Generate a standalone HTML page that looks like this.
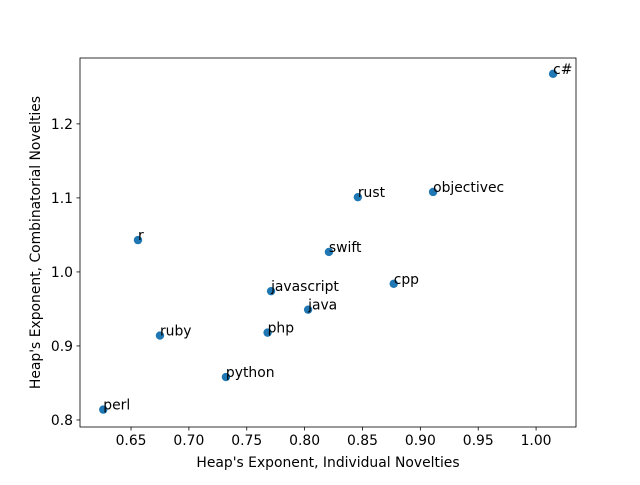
<!DOCTYPE html>
<html><head><meta charset="utf-8"><style>
body{margin:0;background:#fff}
svg text{font-family:"DejaVu Sans","Liberation Sans",sans-serif;}
</style></head><body>
<svg id="chart" width="640" height="480" xmlns="http://www.w3.org/2000/svg">
<rect width="640" height="480" fill="#fff"/>
<g id="plot"></g>
</svg>
<script>
const labels=["c#","objectivec","rust","swift","cpp","r","javascript","java","php","ruby","python","perl"];
const xVals=[1.0147,0.911,0.846,0.821,0.877,0.656,0.771,0.803,0.768,0.675,0.732,0.626];
const yVals=[1.2676,1.108,1.101,1.027,0.984,1.043,0.974,0.949,0.918,0.914,0.858,0.814];
const xTicks=[0.65,0.70,0.75,0.80,0.85,0.90,0.95,1.00];
const yTicks=[0.8,0.9,1.0,1.1,1.2];
const L=80,R=576,T=58,B=427;
const xMin=0.6059,xMax=1.0345,yMin=0.7905,yMax=1.289;
const sx=v=>L+(v-xMin)/(xMax-xMin)*(R-L);
const sy=v=>B-(v-yMin)/(yMax-yMin)*(B-T);
const NS="http://www.w3.org/2000/svg";
const FS=13.9;
const g=document.getElementById('plot');
function mk(t,a,txt){const e=document.createElementNS(NS,t);for(const k in a)e.setAttribute(k,a[k]);if(txt!=null)e.textContent=txt;g.appendChild(e);return e;}
xTicks.forEach(v=>{const x=sx(v);
 const t=mk('line',{x1:x,x2:x,y1:B,y2:B+3.5,stroke:'#000','stroke-width':0.8});
 
 
 const l=mk('text',{x:x,y:B+18,'font-size':FS,'text-anchor':'middle'},v.toFixed(2));
 
 
});
yTicks.forEach(v=>{const y=sy(v);
 const t=mk('line',{x1:L-3.5,x2:L,y1:y,y2:y,stroke:'#000','stroke-width':0.8});
 
 
 const l=mk('text',{x:L-7,y:y+5,'font-size':FS,'text-anchor':'end'},v.toFixed(1));
 
 
});
labels.forEach((n,i)=>{const x=sx(xVals[i]),y=sy(yVals[i]);
 const c=mk('circle',{cx:x,cy:y,r:4.2,fill:'#1f77b4'});
 
 
 const t=mk('text',{x:x,y:y,'font-size':FS},n);
 
 
});
const f=mk('rect',{x:L,y:T,width:R-L,height:B-T,fill:'none',stroke:'#000','stroke-width':0.8});


const xt=mk('text',{x:(L+R)/2,y:467,'font-size':FS,'text-anchor':'middle'},"Heap's Exponent, Individual Novelties");


const yt=mk('text',{x:0,y:0,'font-size':FS,'text-anchor':'middle',transform:`translate(40,${(T+B)/2}) rotate(-90)`},"Heap's Exponent, Combinatorial Novelties");


</script>
</body></html>
